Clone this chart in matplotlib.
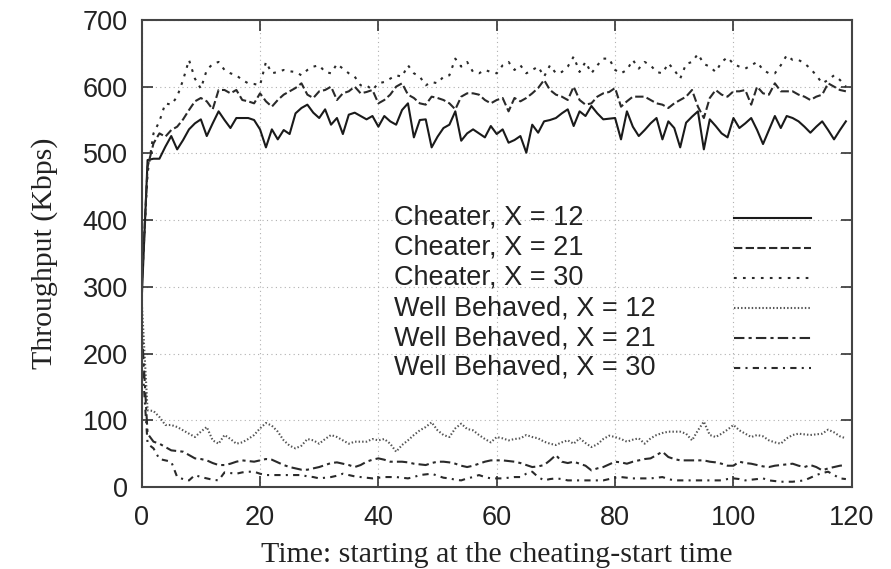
import numpy as np
import matplotlib
matplotlib.use("Agg")
import matplotlib.pyplot as plt

# Throughput per second, starting at the cheating-start time
time = np.arange(120)

cheater_12 = [
    280, 490, 492, 492, 510, 526, 506, 520, 536, 545, 551, 526, 545, 563, 550, 538, 553, 553, 553, 550,
    536, 509, 536, 521, 535, 529, 560, 568, 573, 561, 553, 566, 543, 553, 529, 558, 561, 556, 551, 556,
    540, 556, 548, 543, 565, 575, 524, 550, 551, 509, 525, 538, 543, 563, 519, 530, 536, 530, 524, 541,
    529, 536, 516, 520, 526, 501, 543, 531, 548, 550, 553, 560, 566, 541, 563, 556, 571, 560, 551, 552,
    553, 521, 563, 540, 526, 535, 545, 553, 521, 548, 538, 509, 546, 555, 563, 506, 551, 541, 530, 524,
    553, 538, 545, 553, 535, 514, 535, 556, 538, 556, 553, 548, 540, 531, 540, 548, 535, 521, 535, 548,
]
cheater_21 = [
    300, 480, 515, 530, 525, 535, 540, 551, 565, 578, 583, 578, 566, 595, 595, 590, 595, 580, 578, 575,
    590, 578, 570, 580, 588, 593, 598, 605, 588, 583, 593, 595, 600, 580, 590, 593, 600, 590, 592, 595,
    575, 580, 588, 600, 605, 588, 583, 575, 573, 585, 583, 580, 575, 566, 585, 590, 590, 588, 580, 575,
    580, 583, 563, 583, 578, 583, 590, 598, 610, 595, 588, 585, 580, 600, 580, 573, 575, 585, 590, 592,
    598, 570, 578, 585, 585, 585, 580, 575, 573, 568, 575, 580, 585, 595, 570, 553, 583, 595, 588, 585,
    593, 593, 595, 573, 600, 590, 588, 605, 593, 593, 593, 588, 585, 580, 585, 588, 605, 600, 595, 593,
]
cheater_30 = [
    300, 470, 530, 548, 575, 573, 585, 610, 640, 612, 597, 625, 634, 637, 625, 620, 617, 610, 605, 604,
    602, 637, 620, 622, 625, 623, 622, 617, 625, 630, 632, 622, 620, 634, 627, 620, 615, 602, 602, 595,
    605, 607, 612, 617, 615, 632, 620, 615, 602, 607, 605, 615, 617, 642, 630, 637, 622, 620, 625, 622,
    620, 632, 637, 625, 632, 620, 625, 630, 615, 632, 620, 622, 630, 645, 622, 637, 620, 632, 642, 642,
    625, 620, 625, 640, 627, 637, 632, 622, 620, 635, 625, 612, 634, 637, 649, 634, 630, 622, 637, 644,
    634, 630, 627, 632, 637, 625, 620, 620, 632, 647, 640, 640, 635, 627, 617, 605, 610, 617, 610, 600,
]
well_12 = [
    280, 115, 114, 105, 93, 93, 90, 85, 80, 75, 83, 90, 70, 65, 78, 72, 65, 67, 72, 78,
    88, 96, 92, 83, 70, 62, 58, 62, 72, 70, 65, 72, 78, 75, 70, 65, 68, 68, 68, 72,
    70, 72, 65, 53, 63, 70, 78, 85, 90, 97, 85, 78, 75, 88, 95, 87, 85, 78, 72, 67,
    75, 73, 70, 72, 73, 78, 75, 73, 68, 65, 63, 67, 70, 65, 73, 66, 60, 64, 72, 77,
    75, 72, 68, 71, 73, 65, 73, 78, 81, 83, 83, 83, 80, 70, 85, 98, 78, 75, 80, 86,
    93, 85, 80, 75, 78, 76, 70, 67, 65, 73, 78, 80, 79, 78, 79, 80, 86, 82, 76, 73,
]
well_21 = [
    240, 80, 68, 65, 60, 55, 54, 53, 48, 43, 42, 40, 36, 33, 33, 35, 38, 40, 39, 38,
    40, 42, 41, 37, 33, 30, 28, 26, 26, 28, 30, 33, 36, 37, 35, 33, 30, 33, 38, 41,
    43, 41, 38, 38, 38, 37, 35, 34, 33, 36, 38, 38, 37, 35, 32, 30, 32, 35, 38, 40,
    40, 40, 39, 38, 36, 33, 30, 31, 33, 40, 48, 38, 36, 38, 35, 32, 25, 28, 30, 34,
    38, 37, 35, 38, 40, 42, 43, 48, 53, 45, 42, 40, 40, 40, 40, 40, 38, 37, 35, 32,
    32, 38, 36, 35, 33, 31, 30, 32, 33, 34, 35, 32, 30, 33, 30, 25, 28, 30, 32, 33,
]
well_30 = [
    200, 65, 58, 42, 40, 38, 15, 12, 10, 18, 15, 13, 11, 10, 22, 21, 20, 22, 23, 23,
    20, 18, 18, 18, 18, 18, 18, 18, 16, 15, 13, 14, 15, 17, 20, 18, 16, 15, 14, 13,
    14, 15, 15, 15, 14, 13, 15, 18, 19, 20, 17, 14, 13, 11, 10, 13, 15, 18, 15, 13,
    13, 13, 14, 15, 15, 20, 23, 15, 10, 12, 13, 12, 10, 10, 10, 10, 10, 10, 10, 12,
    14, 15, 14, 13, 13, 13, 13, 14, 15, 12, 10, 10, 10, 10, 10, 10, 10, 10, 10, 12,
    13, 12, 10, 11, 12, 13, 10, 9, 8, 8, 8, 9, 10, 14, 18, 21, 23, 18, 13, 12,
]

labels = [
    "Cheater, X = 12",
    "Cheater, X = 21",
    "Cheater, X = 30",
    "Well Behaved, X = 12",
    "Well Behaved, X = 21",
    "Well Behaved, X = 30",
]
series = [cheater_12, cheater_21, cheater_30, well_12, well_21, well_30]
styles = [
    "-",
    (0, (4, 1.6)),
    (0, (1.3, 3.0)),
    (0, (0.7, 1.0)),
    (0, (5, 2, 1.5, 2)),
    (0, (3, 2.5, 1, 2.5)),
]
colors = ["#1a1a1a", "#2a2a2a", "#2a2a2a", "#555555", "#2a2a2a", "#2a2a2a"]

fig = plt.figure(figsize=(8.91, 5.69), dpi=100)
ax = fig.add_axes([0.159, 0.144, 0.797, 0.821])

for y, ls, c in zip(series, styles, colors):
    ax.plot(time, y, linestyle=ls, color=c, linewidth=1.5)

ax.set_xlim(0, 120)
ax.set_ylim(0, 700)
ax.set_xticks(range(0, 121, 20))
ax.set_yticks(range(0, 701, 100))
ax.grid(True, color="#b0b0b0", linestyle=(0, (1, 3)), linewidth=0.8)
ax.tick_params(direction="in", length=8, width=1.2, top=True, right=True,
               labelsize=19.5, color="#333333")
ax.tick_params(axis="x", pad=13)
ax.tick_params(axis="y", pad=10)
for lab in ax.get_xticklabels() + ax.get_yticklabels():
    lab.set_fontfamily("Liberation Sans")
    lab.set_color("#222222")
for sp in ax.spines.values():
    sp.set_linewidth(1.5)
    sp.set_color("#444444")

ax.set_xlabel("Time: starting at the cheating-start time",
              fontfamily="Liberation Serif", fontsize=21.5, color="#222222", labelpad=8)
ax.set_ylabel("Throughput (Kbps)",
              fontfamily="Liberation Serif", fontsize=21.5, color="#222222", labelpad=18)

# gnuplot-style key: text on the left, line sample on the right
key_y = [0.576, 0.512, 0.448, 0.383, 0.319, 0.255]
for lab, ls, c, ky in zip(labels, styles, colors, key_y):
    ax.text(0.356, ky, lab, transform=ax.transAxes, ha="left", va="center",
            fontfamily="Liberation Sans", fontsize=19.5, color="#222222")
    ax.plot([0.834, 0.942], [ky, ky], transform=ax.transAxes,
            linestyle=ls, color=c, linewidth=1.5)

fig.savefig("out.png", dpi=100)
